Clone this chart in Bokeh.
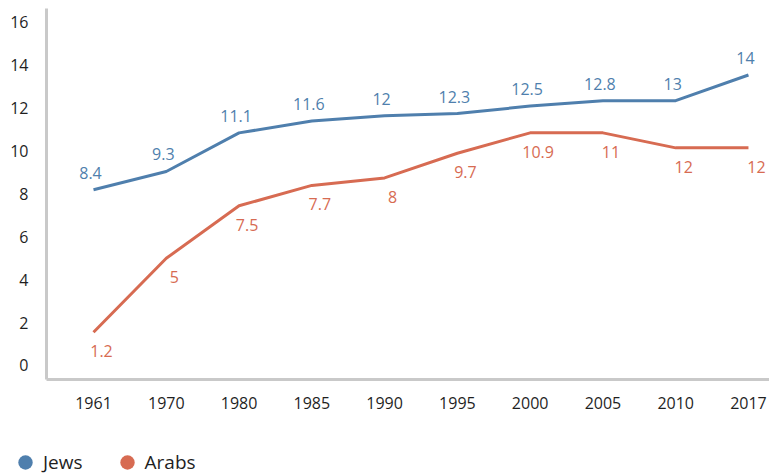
from bokeh.plotting import figure
from bokeh.layouts import column
from bokeh.models import Range1d, FixedTicker, ColumnDataSource, Legend, LegendItem
from bokeh.embed import file_html
from bokeh.resources import INLINE
from bokeh.core.properties import value

# ---- data ----
years = ["1961", "1970", "1980", "1985", "1990", "1995", "2000", "2005", "2010", "2017"]
jews_values = [8.2, 9.05, 10.85, 11.4, 11.65, 11.75, 12.1, 12.35, 12.35, 13.55]
arabs_values = [1.55, 5.0, 7.45, 8.4, 8.75, 9.9, 10.85, 10.85, 10.15, 10.15]
jews_labels = ["8.4", "9.3", "11.1", "11.6", "12", "12.3", "12.5", "12.8", "13", "14"]
arabs_labels = ["1.2", "5", "7.5", "7.7", "8", "9.7", "10.9", "11", "12", "12"]
y_ticks = [0, 2, 4, 6, 8, 10, 12, 14, 16]
series_names = ["Jews", "Arabs"]

BLUE = "#4f7fad"
ORANGE = "#d76b52"
FONT = "Open Sans"
TXT = "#1f1f1f"

x_idx = list(range(len(years)))
jsrc = ColumnDataSource(dict(x=x_idx, y=jews_values, t=jews_labels))
asrc = ColumnDataSource(dict(x=x_idx, y=arabs_values, t=arabs_labels))

p = figure(width=769, height=440, output_backend="svg", toolbar_location=None,
           x_range=Range1d(-0.646, 9.289), y_range=Range1d(-0.653, 16.65),
           min_border_left=46, min_border_right=0, min_border_top=8, min_border_bottom=61)
p.frame_align = False
p.outline_line_color = None
p.xgrid.grid_line_color = None
p.ygrid.grid_line_color = None

p.line("x", "y", source=jsrc, line_color=BLUE, line_width=3)
p.line("x", "y", source=asrc, line_color=ORANGE, line_width=3)

p.text("x", "y", text="t", source=jsrc, text_color=BLUE, text_font=value(FONT),
       text_font_size="16px", text_align="center", text_baseline="middle",
       x_offset=-3, y_offset=-17)
p.text("x", "y", text="t", source=asrc, text_color=ORANGE, text_font=value(FONT),
       text_font_size="16px", text_align="center", text_baseline="middle",
       x_offset=8, y_offset=19)

for ax in (p.xaxis[0], p.yaxis[0]):
    ax.axis_line_color = "#c9c9c9"
    ax.axis_line_width = 3
    ax.major_tick_line_color = None
    ax.minor_tick_line_color = None
    ax.major_tick_out = 0
    ax.major_label_text_font = FONT
    ax.major_label_text_font_size = "16px"
    ax.major_label_text_color = TXT

p.xaxis.ticker = FixedTicker(ticks=x_idx)
p.xaxis.major_label_overrides = {i: y for i, y in zip(x_idx, years)}
p.xaxis.major_label_standoff = 17
p.yaxis.ticker = FixedTicker(ticks=y_ticks)
p.yaxis.major_label_standoff = 18

# legend strip below the chart
lg = figure(width=769, height=35, output_backend="svg", toolbar_location=None,
            x_range=Range1d(0, 1), y_range=Range1d(0, 1),
            x_axis_location=None, y_axis_location=None,
            min_border=0, min_border_left=0, min_border_right=0,
            min_border_top=0, min_border_bottom=0)
lg.frame_align = False
lg.outline_line_color = None
lg.xgrid.grid_line_color = None
lg.ygrid.grid_line_color = None
# zero-size markers (series sources) used only as circular legend swatches
rj = lg.scatter("x", "y", source=jsrc, size=0, marker="circle", fill_color=BLUE, line_color=None)
ra = lg.scatter("x", "y", source=asrc, size=0, marker="circle", fill_color=ORANGE, line_color=None)
legend = Legend(items=[LegendItem(label=series_names[0], renderers=[rj]),
                       LegendItem(label=series_names[1], renderers=[ra])],
                orientation="horizontal", location=(7, -5),
                glyph_width=36, glyph_height=36, label_standoff=0, spacing=26,
                padding=0, margin=0, border_line_color=None, background_fill_alpha=0,
                label_text_font=FONT, label_text_font_size="19px", label_text_color=TXT)
lg.add_layout(legend)

layout = column(p, lg, spacing=0)
open("out.html", "w").write(file_html(layout, INLINE))
